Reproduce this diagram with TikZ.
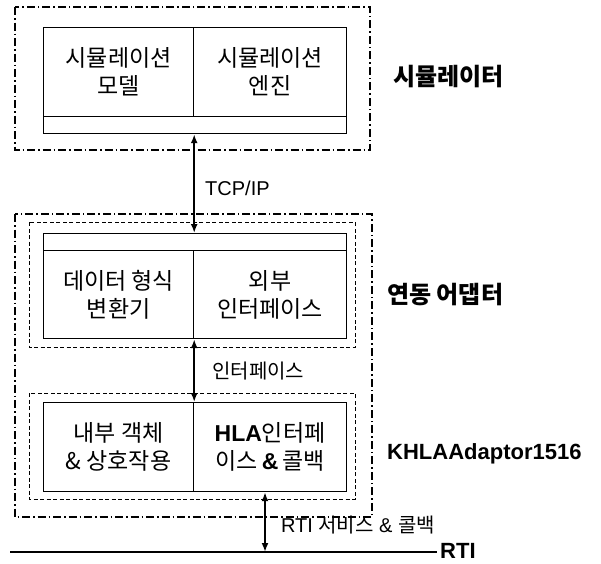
\documentclass[tikz,border=0pt]{standalone}
\usepackage{fontspec}
\setmainfont{Liberation Sans}
\newfontfamily\kr{Noto Sans CJK KR}
\usetikzlibrary{arrows.meta}

\begin{document}
\begin{tikzpicture}[x=1pt,y=-1pt,
  cell/.style={draw,line width=1.2pt,inner sep=0pt,anchor=north west,align=center,
    minimum width=150pt,minimum height=89pt,font=\kr\fontsize{23pt}{28pt}\selectfont},
  bar/.style={draw,line width=1.2pt,inner sep=0pt,anchor=north west,minimum width=303pt,minimum height=17pt},
  frame/.style={line width=1.6pt,dash pattern=on 8pt off 3pt on 1.5pt off 3pt},
  group/.style={line width=0.8pt,dash pattern=on 4pt off 2.5pt},
  link/.style={line width=2pt,{Latex[length=9pt,width=7pt]}-{Latex[length=9pt,width=7pt]}},
  tag/.style={anchor=west,inner sep=0pt,font=\fontsize{20pt}{22pt}\selectfont},
  side/.style={anchor=west,inner sep=0pt,font=\bfseries\fontsize{22pt}{26pt}\selectfont}]
  \useasboundingbox (0,0) rectangle (601,563);

  \draw[frame] (15,7) rectangle (370,150);
  \node[cell] (simmodel) at (43,27) {시뮬레이션\\모델};
  \node[cell,minimum width=153pt] (simengine) at (193,27) {시뮬레이션\\엔진};
  \node[bar] (simbar) at (43,116) {};
  \node[side,font=\kr\bfseries\fontsize{24pt}{26pt}\selectfont] (simlabel) at (393,77) {시뮬레이터};

  \draw[frame] (15,214) rectangle (372,517);
  \draw[group] (29,222) rectangle (355,347);
  \node[bar] (adapbar) at (43,233) {};
  \node[cell,minimum height=88pt] (conv) at (43,250) {데이터 형식\\변환기};
  \node[cell,minimum width=153pt,minimum height=88pt] (ext) at (193,250) {외부\\인터페이스};
  \node[side,font=\kr\bfseries\fontsize{24pt}{26pt}\selectfont] (adaplabel) at (387,295) {연동 어댑터};

  \draw[group] (29,393) rectangle (355,499);
  \node[cell] (obj) at (43,402) {내부 객체\\\& 상호작용};
  \node[cell,minimum width=153pt] (hla) at (193,402) {{\bfseries\fontspec{Liberation Sans}HLA}인터페\\이스{\bfseries\fontspec{Liberation Sans}\,\&\,}콜백};
  \node[side] (khlalabel) at (387,454) {KHLAAdaptor1516};

  \draw[link] (simbar.south -| simmodel.east) -- (adapbar.north -| conv.east)
    node[tag,pos=0.55,xshift=10pt] (tcp) {TCP/IP};
  \draw[link] (conv.south east) -- (obj.north east)
    node[tag,midway,xshift=17pt] (iface) {\kr 인터페이스};

  \coordinate (rtiend) at (10,552);
  \coordinate (rtitap) at (265,552);
  \node[side,inner sep=3pt] (rti) at (437,551) {RTI};
  \draw[line width=2pt] (rtiend) -- (rti.west |- rtiend);
  \draw[link] (hla.south -| rtitap) -- (rtitap)
    node[tag,pos=0.55,xshift=15pt] (svc) {RTI {\kr 서비스} \& {\kr 콜백}};
\end{tikzpicture}
\end{document}
